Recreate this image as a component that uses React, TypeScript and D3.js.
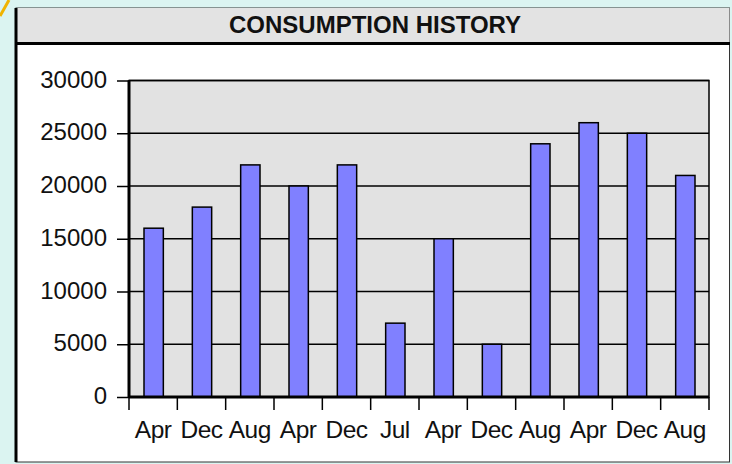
import React, { useEffect, useRef } from "react";
import * as d3 from "d3";

const months = ["Apr", "Dec", "Aug", "Apr", "Dec", "Jul", "Apr", "Dec", "Aug", "Apr", "Dec", "Aug"];
const consumption = [16000, 18000, 22000, 20000, 22000, 7000, 15000, 5000, 24000, 26000, 25000, 21000];
const yTicks = [0, 5000, 10000, 15000, 20000, 25000, 30000];

const App: React.FC = () => {
  const svgRef = useRef<SVGSVGElement>(null);

  useEffect(() => {
    if (!svgRef.current) return;
    const svg = d3.select(svgRef.current);
    svg.selectAll("*").remove();

    const W = 732;
    const H = 464;
    const font = "'Liberation Sans', Arial, sans-serif";

    // page background
    svg.append("rect").attr("width", W).attr("height", H).attr("fill", "#dbf4f1");

    // little yellow corner mark
    svg
      .append("path")
      .attr("d", "M0,16 L9,0")
      .attr("stroke", "#f0b400")
      .attr("stroke-width", 3);

    // outer box
    svg
      .append("rect")
      .attr("x", 16)
      .attr("y", 8)
      .attr("width", 713.5)
      .attr("height", 454)
      .attr("fill", "#ffffff")
      .attr("stroke", "#333")
      .attr("stroke-width", 1);

    // title band
    svg
      .append("rect")
      .attr("x", 16)
      .attr("y", 8)
      .attr("width", 713.5)
      .attr("height", 35)
      .attr("fill", "#e3e3e3");
    svg
      .append("line")
      .attr("x1", 16)
      .attr("x2", 730)
      .attr("y1", 43.5)
      .attr("y2", 43.5)
      .attr("stroke", "#000")
      .attr("stroke-width", 3);
    svg
      .append("line")
      .attr("x1", 16)
      .attr("x2", 16)
      .attr("y1", 8)
      .attr("y2", 462)
      .attr("stroke", "#000")
      .attr("stroke-width", 3);

    svg
      .append("text")
      .attr("x", 375)
      .attr("y", 33)
      .attr("text-anchor", "middle")
      .style("font-family", font)
      .style("font-size", "24px")
      .style("font-weight", "bold")
      .attr("fill", "#111")
      .text("CONSUMPTION HISTORY");

    // plot area
    const left = 129;
    const right = 709;
    const top = 80.5;
    const bottom = 397;

    const x = d3.scaleBand().domain(d3.range(months.length).map(String)).range([left, right]);
    const y = d3.scaleLinear().domain([0, 30000]).range([bottom, top]);

    svg
      .append("rect")
      .attr("x", left)
      .attr("y", top)
      .attr("width", right - left)
      .attr("height", bottom - top)
      .attr("fill", "#e2e2e2")
      .attr("stroke", "#000")
      .attr("stroke-width", 1.5);

    // gridlines
    svg
      .append("g")
      .selectAll("line")
      .data(yTicks.slice(1))
      .enter()
      .append("line")
      .attr("x1", left)
      .attr("x2", right)
      .attr("y1", (d) => y(d))
      .attr("y2", (d) => y(d))
      .attr("stroke", "#000")
      .attr("stroke-width", 1.5);

    // bars
    const bw = x.bandwidth() * 0.4;
    svg
      .append("g")
      .selectAll("rect")
      .data(consumption)
      .enter()
      .append("rect")
      .attr("x", (d, i) => (x(String(i)) || 0) + x.bandwidth() / 2 - bw / 2 + 0.5)
      .attr("y", (d) => y(d))
      .attr("width", bw)
      .attr("height", (d) => bottom - y(d))
      .attr("fill", "#8080ff")
      .attr("stroke", "#000")
      .attr("stroke-width", 1.5);

    // y axis
    const yAxis = svg
      .append("g")
      .attr("transform", `translate(${left},0)`)
      .call(d3.axisLeft(y).tickValues(yTicks).tickSize(12).tickPadding(10).tickFormat((d) => String(d)));
    yAxis.select(".domain").remove();
    yAxis.selectAll(".tick line").attr("stroke", "#000").attr("stroke-width", 1.5);
    yAxis
      .selectAll(".tick text")
      .attr("dy", "0.28em")
      .style("font-family", font)
      .style("font-size", "24px")
      .attr("fill", "#111");
    svg
      .append("line")
      .attr("x1", left)
      .attr("x2", left)
      .attr("y1", top)
      .attr("y2", bottom + 1)
      .attr("stroke", "#000")
      .attr("stroke-width", 3);

    // x axis
    svg
      .append("line")
      .attr("x1", left)
      .attr("x2", right)
      .attr("y1", bottom)
      .attr("y2", bottom)
      .attr("stroke", "#000")
      .attr("stroke-width", 3);
    const boundaries = d3.range(months.length + 1).map((i) => left + i * x.step());
    svg
      .append("g")
      .selectAll("line")
      .data(boundaries)
      .enter()
      .append("line")
      .attr("x1", (d) => d)
      .attr("x2", (d) => d)
      .attr("y1", bottom)
      .attr("y2", bottom + 13)
      .attr("stroke", "#000")
      .attr("stroke-width", 1.5);
    svg
      .append("g")
      .selectAll("text")
      .data(months)
      .enter()
      .append("text")
      .attr("x", (d, i) => (x(String(i)) || 0) + x.bandwidth() / 2)
      .attr("y", 438)
      .attr("text-anchor", "middle")
      .attr("textLength", null)
      .style("font-family", font)
      .style("font-size", "24.5px")
      .style("letter-spacing", "-0.5px")
      .attr("fill", "#111")
      .text((d) => d);
  }, []);

  return (
    <div style={{ position: "absolute", left: 0, top: 0 }}>
      <svg ref={svgRef} width={732} height={464} style={{ display: "block" }}></svg>
    </div>
  );
};

export default App;
